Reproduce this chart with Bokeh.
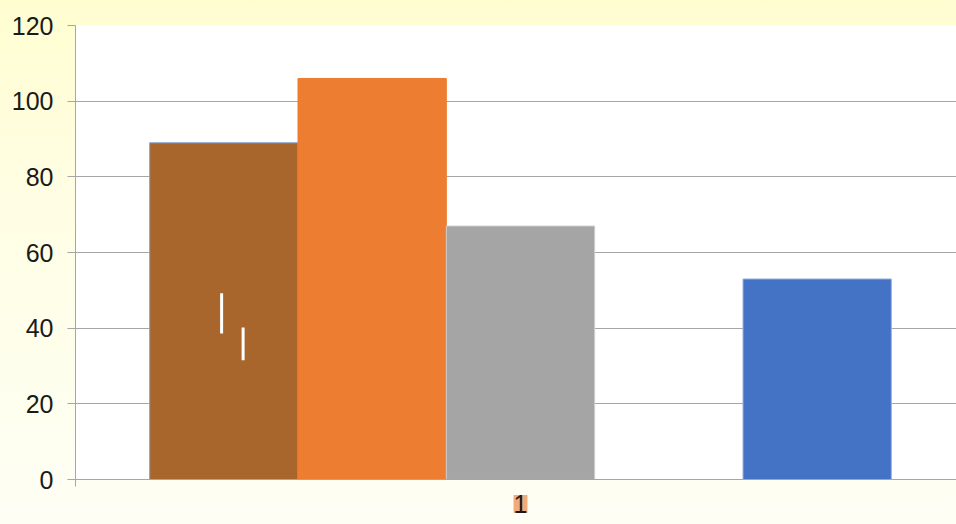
from bokeh.plotting import figure
from bokeh.models import Range1d, FixedTicker, ColumnDataSource, Title
from bokeh.embed import file_html
from bokeh.resources import INLINE

# ---- data ----
categories = ["1"]
series_names = ["Series 1", "Series 2", "Series 3", "Series 4", "Series 5"]
series_values = [89, 106, 67, None, 53]
series_colors = ["#A9662C", "#ED7D31", "#A5A5A5", "#FFC000", "#4472C4"]
series_lines = ["#7FA2D6", "#ED7D31", "#CFCFCF", "#FFC000", "#9AB3E0"]
y_ticks = [0, 20, 40, 60, 80, 100, 120]
# short white marks inside the first bar (x offset in bar widths, y from, y to)
mark_dx = [-0.015, 0.13]
mark_y0 = [38.6, 31.5]
mark_y1 = [49.2, 40.2]

n = len(series_names)
bar_w = 1.0 / (n + 1)
cat_pos = 0.0

xs, tops, fills, lines = [], [], [], []
for i in range(n):
    if series_values[i] is None:
        continue
    xs.append(cat_pos + (i - (n - 1) / 2) * bar_w)
    tops.append(series_values[i])
    fills.append(series_colors[i])
    lines.append(series_lines[i])
src = ColumnDataSource(dict(x=xs, top=tops, fill=fills, line=lines))

first_x = cat_pos + (0 - (n - 1) / 2) * bar_w
mx = [first_x + d * bar_w for d in mark_dx]

frame_w, frame_h = 881, 454
cat_px = 890.0
x_start = cat_pos - 0.5
x_end = cat_pos - 0.5 + frame_w / cat_px
p = figure(
    frame_width=frame_w, frame_height=frame_h,
    x_range=Range1d(x_start, x_end),
    y_range=Range1d(0, 120),
    output_backend="svg", toolbar_location=None,
    min_border_left=75, min_border_top=25, min_border_right=0, min_border_bottom=45,
)
p.border_fill_alpha = 0
p.styles = {"background": "linear-gradient(to bottom, #FFFDD0 0%, #FFFEE6 45%, #FEFEF5 100%)"}
p.background_fill_color = "white"
p.outline_line_color = None

p.vbar(x="x", top="top", bottom=0, width=bar_w, fill_color="fill", line_color="line",
       line_width=1, source=src)
p.segment(x0=mx, y0=mark_y0, x1=mx, y1=mark_y1, line_color="white", line_width=3)

# grid
p.xgrid.grid_line_color = None
p.ygrid.grid_line_color = "#A6A6A6"
p.ygrid.grid_line_width = 1
p.ygrid.ticker = FixedTicker(ticks=y_ticks)

# y axis
ya = p.yaxis[0]
ya.ticker = FixedTicker(ticks=y_ticks)
ya.axis_line_color = "#A6A6A6"
ya.major_tick_line_color = "#A6A6A6"
ya.major_tick_out = 8
ya.major_tick_in = 0
ya.minor_tick_line_color = None
ya.major_label_text_font = "Liberation Sans"
ya.major_label_text_font_size = "25px"
ya.major_label_text_color = "#1A1A1A"
ya.major_label_standoff = 14

# x axis: line and category boundary ticks; the category name is a boxed title below
xa = p.xaxis[0]
xa.ticker = FixedTicker(ticks=[cat_pos], minor_ticks=[cat_pos - 0.5, cat_pos + 0.5])
xa.major_label_overrides = {cat_pos: ""}
xa.major_label_text_font_size = "1px"
xa.major_label_standoff = 0
xa.axis_line_color = "#A6A6A6"
xa.major_tick_line_color = None
xa.major_tick_out = 0
xa.major_tick_in = 0
xa.minor_tick_line_color = "#A6A6A6"
xa.minor_tick_out = 7
xa.minor_tick_in = 0

# left offset of the category name: category centre in pixels minus half the text width
label_px = 25
half_text = 0.556 * label_px * len(categories[0]) / 2
cat_offset = (cat_pos - x_start) * cat_px - half_text
t = Title(text=categories[0], align="left", offset=cat_offset, standoff=13,
          text_font="Liberation Sans", text_font_size=f"{label_px}px", text_font_style="normal",
          text_color="#1A1A1A", background_fill_color="#F4AA78")
p.add_layout(t, "below")

open("out.html", "w").write(file_html(p, INLINE))
